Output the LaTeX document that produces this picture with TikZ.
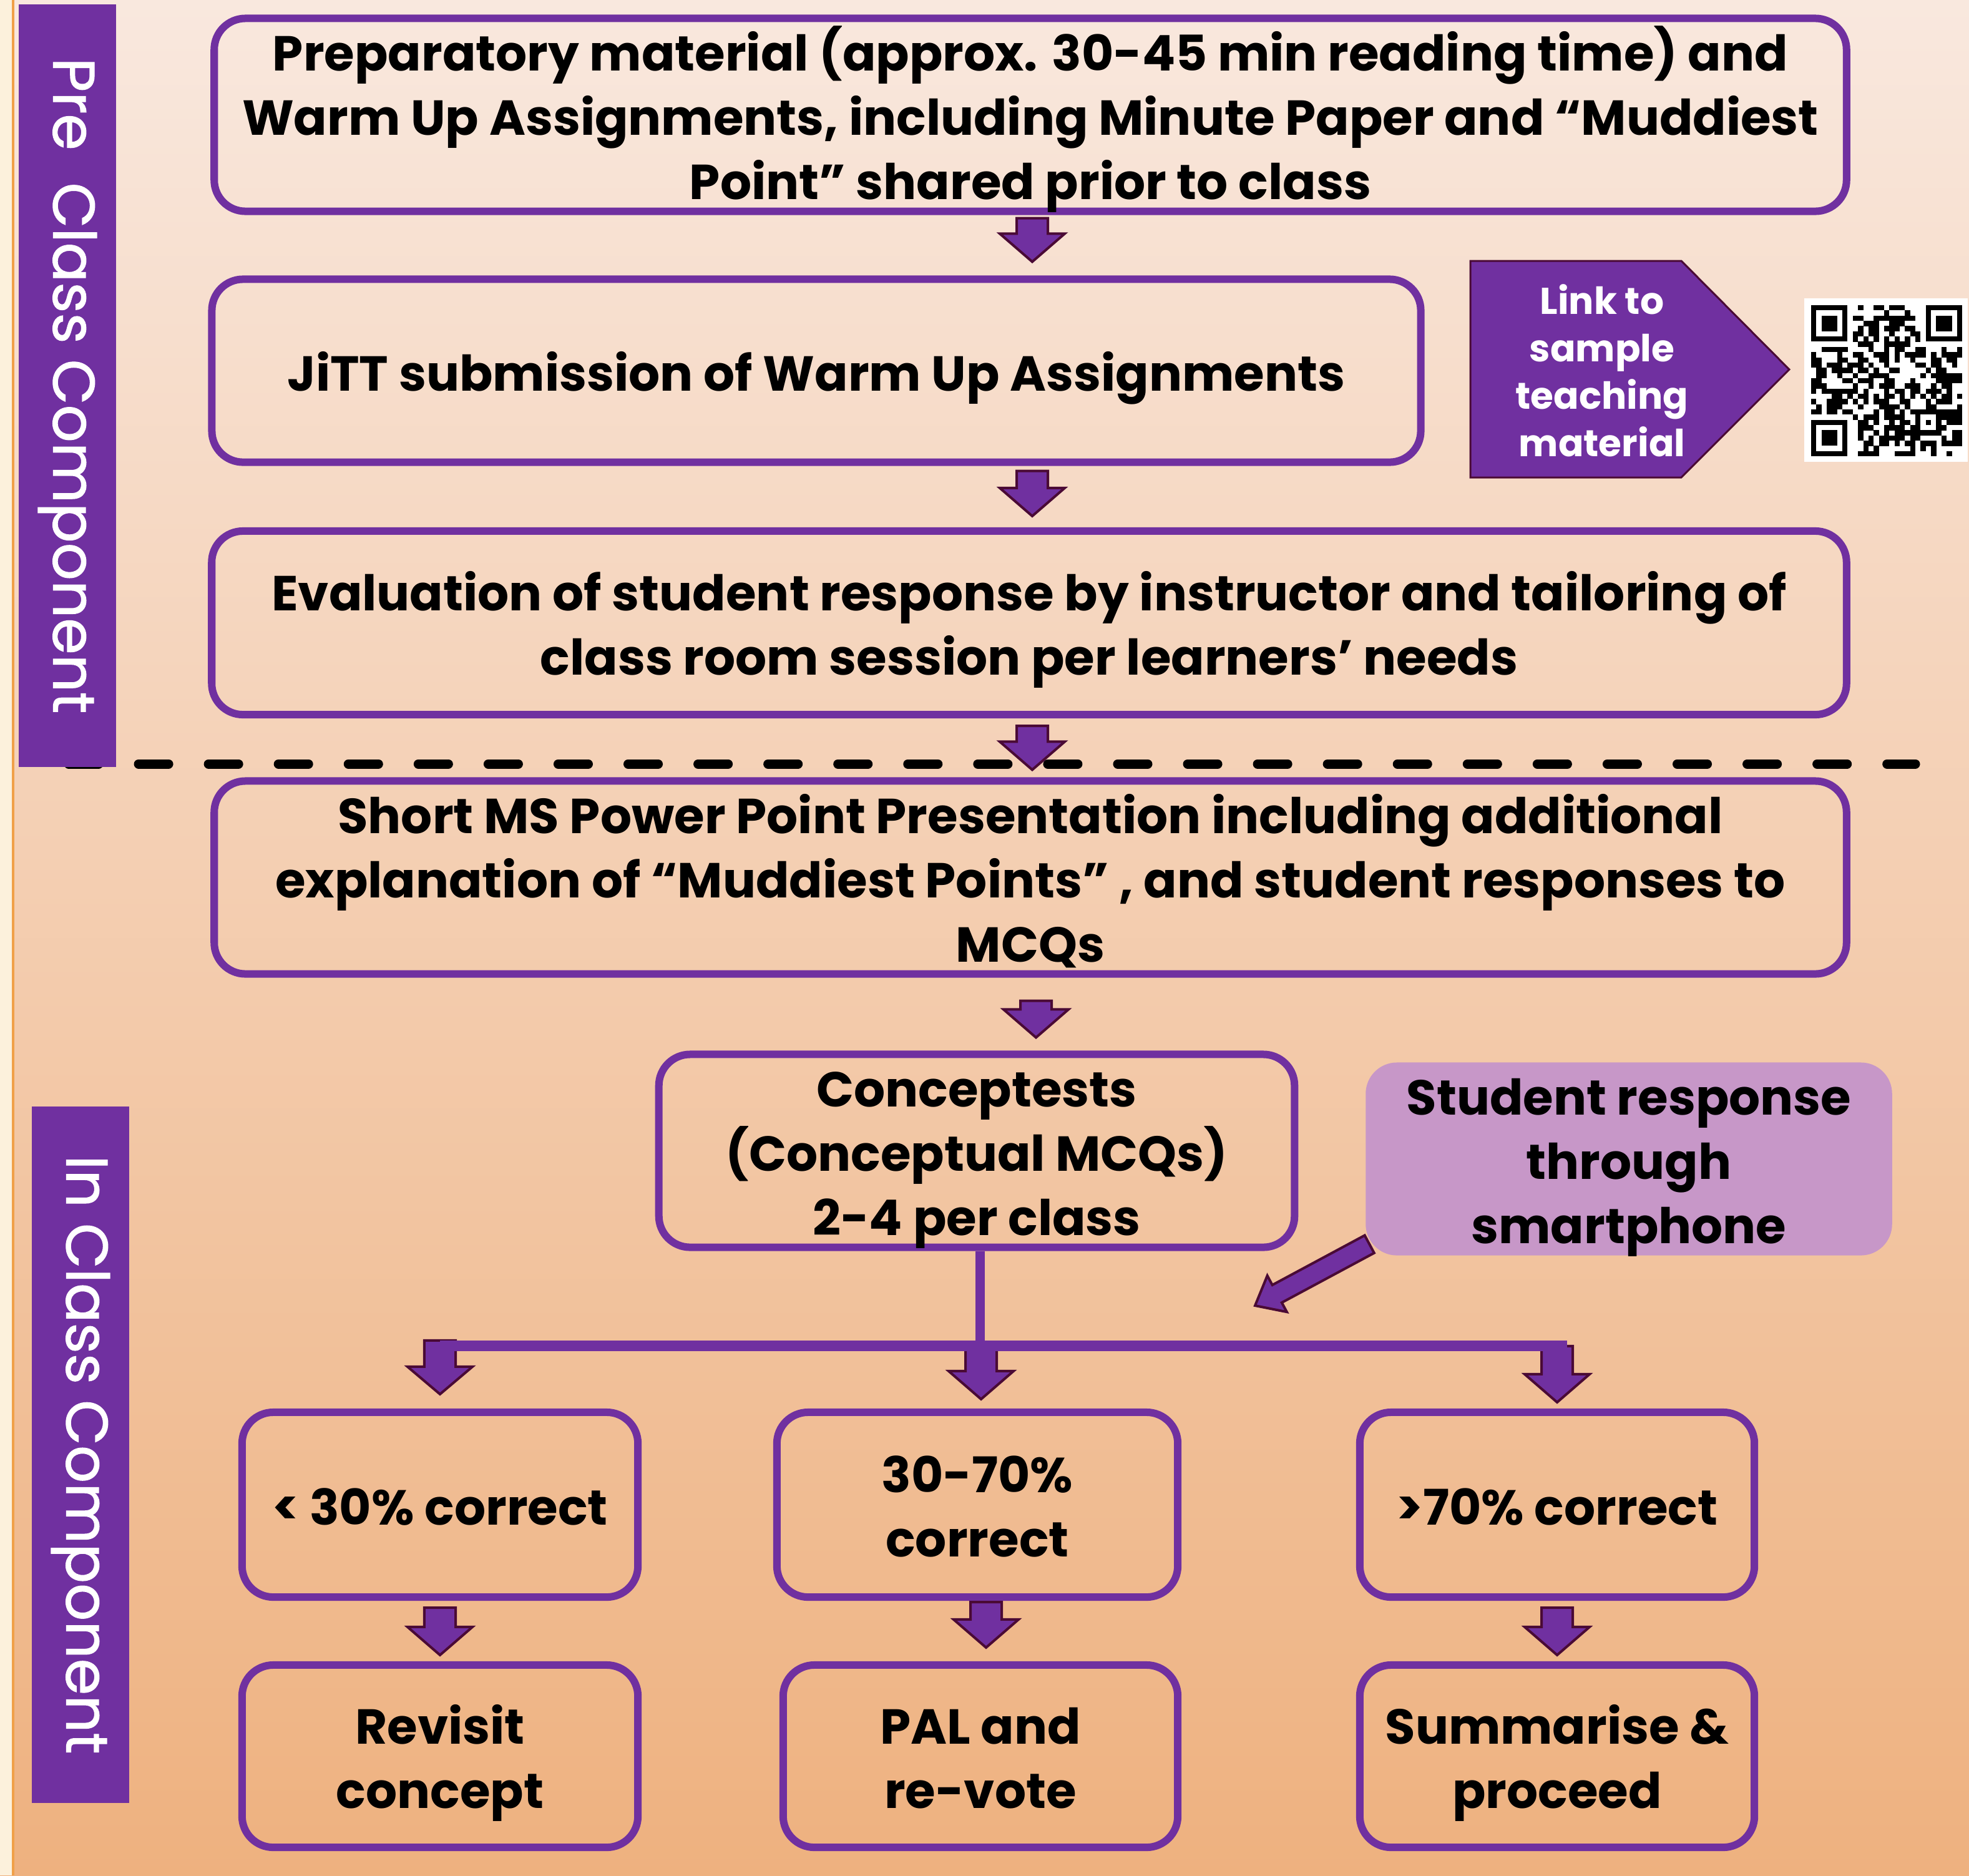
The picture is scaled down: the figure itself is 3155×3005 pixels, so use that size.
\documentclass[tikz,border=0pt]{standalone}
\usepackage{fontspec}
\setmainfont{Poppins}
\newfontfamily\labfam{Poppins}[FakeBold=1.2]
\usetikzlibrary{calc}
\definecolor{pur}{HTML}{7030A0}
\definecolor{arrline}{HTML}{4A0A35}
\definecolor{lilac}{HTML}{C797C8}
\definecolor{bgtop}{HTML}{F9E8DE}
\definecolor{bgbot}{HTML}{EEB17F}
\definecolor{cream}{HTML}{FCF1DC}
\definecolor{orng}{HTML}{F0A048}
\newcommand\boxfont{\fontsize{22.4pt}{29.3pt}\selectfont\bfseries}
\newcommand\labfont{\labfam\fontsize{26.8pt}{32pt}\selectfont}
\newcommand\linkfont{\fontsize{17pt}{21.6pt}\selectfont\bfseries}
\newcommand\bt[1]{\raisebox{-0.115cm}[\height][\depth]{\begin{tabular}{@{}c@{}}#1\end{tabular}}}
\newcommand\blockarr[5]{%
  \path coordinate (bah) at ($(#2)!#5!(#1)$);
  \filldraw[barrow] ($(#1)!#3!90:(#2)$) -- ($(bah)!#3!90:(#2)$) -- ($(bah)!#4!90:(#2)$) -- (#2) -- ($(bah)!#4!-90:(#2)$) -- ($(bah)!#3!-90:(#2)$) -- ($(#1)!#3!-90:(#2)$) -- cycle;
}
\tikzset{
  box/.style={draw=pur, line width=0.12cm, rounded corners=0.5cm, font=\boxfont, inner sep=0pt},
  barrow/.style={fill=pur, draw=arrline, line width=0.04cm, line join=miter},
  sidelab/.style={rotate=-90, fill=pur, text=white, font=\labfont, inner sep=0pt, minimum height=1.56cm},
}
\begin{document}
\begin{tikzpicture}[x=0.01cm, y=-0.01cm]
\useasboundingbox (0,0) rectangle (3155,3005);
% background
\shade[top color=bgtop, bottom color=bgbot] (0,0) rectangle (3155,3005);
\fill[cream] (0,0) rectangle (20,3005);
\draw[orng, line width=0.03cm] (21,0) -- (21,3005);
% dashed separator
\draw[black, line width=0.15cm, line cap=round, dash pattern=on 0.48cm off 0.64cm] (110,1224) -- (3069,1224);
% side labels
\node[sidelab, minimum width=12.22cm] (pre) at (108,618) {Pre\hspace{0.55em}Class Component};
\node[sidelab, minimum width=11.16cm] (incl) at (129,2331) {In Class Component};
% boxes
\node[box, minimum width=26.14cm, minimum height=2.96cm] (b1) at (1651,184) {\bt{Preparatory material (approx. 30-45 min reading time) and\\Warm Up Assignments, including Minute Paper and “Muddiest\\Point” shared prior to class}};
\node[box, minimum width=19.36cm, minimum height=2.93cm] (b2) at (1308,594) {\bt{JiTT submission of Warm Up Assignments}};
\node[box, minimum width=26.18cm, minimum height=2.94cm] (b3) at (1649,998) {\bt{Evaluation of student response by instructor and tailoring of\\class room session per learners’ needs}};
\node[box, minimum width=26.14cm, minimum height=2.94cm] (b4) at (1651,1406) {\bt{Short MS Power Point Presentation including additional\\explanation of “Muddiest Points” , and student responses to\\MCQs}};
\node[box, minimum width=10.18cm, minimum height=2.96cm] (con) at (1565,1844) {\bt{Conceptests\\(Conceptual MCQs)\\2-4 per class}};
\node[box, draw=none, fill=lilac, minimum width=8.43cm, minimum height=3.02cm] (stud) at (2610,1857) {\bt{Student response\\through\\smartphone}};
\node[box, minimum width=6.34cm, minimum height=2.96cm] (r1a) at (705,2411) {\bt{< 30\% correct}};
\node[box, minimum width=6.42cm, minimum height=2.96cm] (r1b) at (1566,2411) {\bt{30-70\%\\correct}};
\node[box, minimum width=6.32cm, minimum height=2.96cm] (r1c) at (2495,2411) {\bt{>70\% correct}};
\node[box, minimum width=6.34cm, minimum height=2.92cm] (r2a) at (705,2814) {\bt{Revisit\\concept}};
\node[box, minimum width=6.32cm, minimum height=2.92cm] (r2b) at (1571,2814) {\bt{PAL and\\re-vote}};
\node[box, minimum width=6.32cm, minimum height=2.92cm] (r2c) at (2495,2814) {\bt{Summarise \&\\proceed}};
% link shape and QR
\draw[fill=pur, draw=arrline, line width=0.03cm] (2356,418) -- (2694,418) -- (2867,592) -- (2694,765) -- (2356,765) -- cycle;
\node[align=center, text=white, font=\linkfont, inner sep=0pt] (link) at (2567,594) {Link to\\sample\\teaching\\material};
\fill[white] (2891,478) rectangle (3153,740);
\pgfmathsetseed{4711}
\foreach \i in {0,...,28}{
  \foreach \j in {0,...,28}{
    \pgfmathrandominteger{\qr}{0}{1}
    \pgfmathtruncatemacro{\qskp}{(\i<8 && \j<8) || (\i>20 && \j<8) || (\i<8 && \j>20) || (\i>19 && \i<25 && \j>19 && \j<25) || \i==6 || \j==6}
    \ifnum\qskp=0 \ifnum\qr=1 \fill[black] ({2902+8.35*\i},{489+8.35*\j}) rectangle ++(8.45,8.45); \fi\fi
  }
}
\foreach \k in {8,10,...,20}{
  \fill[black] ({2902+8.35*\k},{489+8.35*6}) rectangle ++(8.45,8.45);
  \fill[black] ({2902+8.35*6},{489+8.35*\k}) rectangle ++(8.45,8.45);
}
\foreach \fx/\fy in {2902/489, 3085.7/489, 2902/672.7}{
  \fill[black] (\fx,\fy) rectangle ++(58.45,58.45);
  \fill[white] ({\fx+8.35},{\fy+8.35}) rectangle ++(41.75,41.75);
  \fill[black] ({\fx+16.7},{\fy+16.7}) rectangle ++(25.05,25.05);
}
\fill[black] ({2902+8.35*20},{489+8.35*20}) rectangle ++(41.75,41.75);
\fill[white] ({2902+8.35*21},{489+8.35*21}) rectangle ++(25.05,25.05);
\fill[black] ({2902+8.35*22},{489+8.35*22}) rectangle ++(8.35,8.35);
% block arrows in the main column
\coordinate (a1s) at ($(b1.south)+(3,5)$);
\coordinate (a1e) at ($(b2.north -| a1s)+(0,-22)$);
\blockarr{a1s}{a1e}{0.25cm}{0.52cm}{0.45cm}
\coordinate (a2s) at ($(b2.south -| a1s)+(0,8)$);
\coordinate (a2e) at ($(b3.north -| a1s)+(0,-18)$);
\blockarr{a2s}{a2e}{0.25cm}{0.52cm}{0.45cm}
\coordinate (a3s) at ($(b3.south -| a1s)+(0,12)$);
\coordinate (a3e) at ($(b4.north -| a1s)+(0,-12)$);
\blockarr{a3s}{a3e}{0.25cm}{0.52cm}{0.45cm}
\coordinate (a4s) at ($(b4.south)+(9,37)$);
\coordinate (a4e) at ($(con.north -| a4s)+(0,-21)$);
\blockarr{a4s}{a4e}{0.25cm}{0.52cm}{0.45cm}
% tree
\coordinate (vtop) at ($(con.south)+(5,0)$);
\coordinate (barL) at ($(r1a.north)+(0,-100)$);
\coordinate (barM) at ($(r1b.north)+(6,-100)$);
\coordinate (barR) at ($(r1c.north)+(0,-100)$);
\draw[pur, line width=0.15cm] (vtop) -- (vtop |- barM);
\coordinate (t1s) at ($(barL)+(0,-9)$);
\coordinate (t1e) at ($(r1a.north)+(0,-23)$);
\blockarr{t1s}{t1e}{0.25cm}{0.52cm}{0.44cm}
\coordinate (t2e) at ($(r1b.north)+(6,-15)$);
\blockarr{barM}{t2e}{0.25cm}{0.52cm}{0.45cm}
\coordinate (t3e) at ($(r1c.north)+(0,-10)$);
\blockarr{barR}{t3e}{0.25cm}{0.52cm}{0.45cm}
\draw[pur, line width=0.17cm] (barL) -- ($(barR)+(16,0)$);
% second row arrows
\coordinate (u1s) at ($(r1a.south)+(0,11)$);
\coordinate (u1e) at ($(r2a.north)+(0,-10)$);
\blockarr{u1s}{u1e}{0.25cm}{0.52cm}{0.45cm}
\coordinate (u2s) at ($(r1b.south)+(14,2)$);
\coordinate (u2e) at ($(r2b.north -| u2s)+(0,-22)$);
\blockarr{u2s}{u2e}{0.25cm}{0.52cm}{0.45cm}
\coordinate (u3s) at ($(r1c.south)+(0,11)$);
\coordinate (u3e) at ($(r2c.north)+(0,-10)$);
\blockarr{u3s}{u3e}{0.25cm}{0.52cm}{0.45cm}
% diagonal arrow from student response
\coordinate (dtail) at ($(stud.south west)+(12,-24)$);
\coordinate (dtip) at (2011,2092);
\blockarr{dtail}{dtip}{0.16cm}{0.33cm}{0.40cm}
\end{tikzpicture}
\end{document}
